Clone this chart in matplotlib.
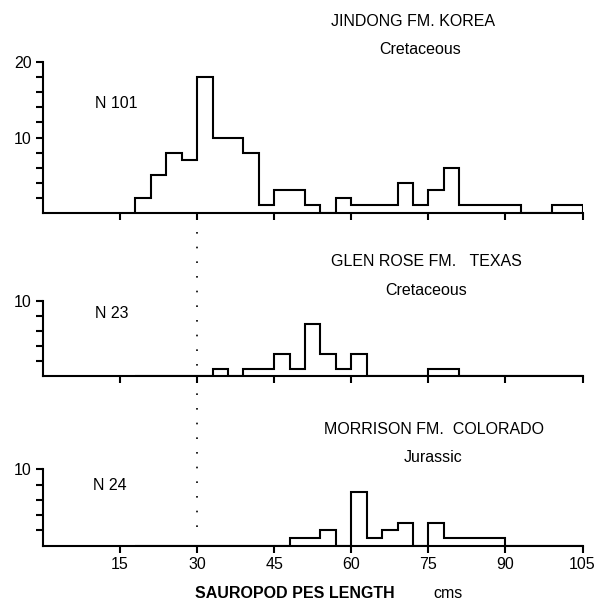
import numpy as np
import matplotlib
matplotlib.use("Agg")
import matplotlib.pyplot as plt
from matplotlib.transforms import blended_transform_factory

# bin edges (cm) shared by all three panels
bin_edges = [18, 21, 24, 27, 30, 33, 36, 39, 42, 45, 48, 51, 54, 57, 60,
             63, 66, 69, 72, 75, 78, 81, 84, 87, 90, 93, 96, 99, 102, 105]

# counts per bin
jindong = [2, 5, 8, 7, 18, 10, 10, 8, 1, 3, 3, 1, 0, 2, 1,
           1, 1, 4, 1, 3, 6, 1, 1, 1, 1, 0, 0, 1, 1]
glen_rose = [0, 0, 0, 0, 0, 1, 0, 1, 1, 3, 1, 7, 3, 1, 3,
             0, 0, 0, 0, 1, 1, 0, 0, 0, 0, 0, 0, 0, 0]
morrison = [0, 0, 0, 0, 0, 0, 0, 0, 0, 0, 1, 1, 2, 0, 7,
            1, 2, 3, 0, 3, 1, 1, 1, 1, 0, 0, 0, 0, 0]

x_ticks = [15, 30, 45, 60, 75, 90, 105]
panels = [
    ("JINDONG FM. KOREA", "Cretaceous", "N 101", jindong, 20),
    ("GLEN ROSE FM.   TEXAS", "Cretaceous", "N 23", glen_rose, 10),
    ("MORRISON FM.  COLORADO", "Jurassic", "N 24", morrison, 10),
]

plt.rcParams['font.family'] = ['Liberation Sans', 'DejaVu Sans']
FS = 11.5
W, H = 597, 600

fig = plt.figure(figsize=(W / 100, H / 100), dpi=100)

def fx(px):
    return px / W

def fy(py):
    return 1 - py / H

# axes boxes in pixels: (top-of-ylim, baseline)
boxes = [(62, 213), (301, 376), (469.3, 545.7)]
left_px, right_px = 43, 582.5
# title / period / N label positions in pixels
title_pos = [(413, 21), (426, 262), (434, 430)]
period_pos = [(420, 50), (426, 290), (433, 458)]
n_pos = [(95, 104), (95, 314), (93, 485)]

axes = []
for i, (title, period, nlab, counts, ymax) in enumerate(panels):
    top, base = boxes[i]
    ax = fig.add_axes([fx(left_px), fy(base), fx(right_px - left_px), (base - top) / H])
    ax.stairs(counts, bin_edges, color='black', linewidth=1.5, baseline=0)
    ax.set_xlim(0, 105)
    ax.set_ylim(0, ymax)
    for s in ['top', 'right']:
        ax.spines[s].set_visible(False)
    for s in ['left', 'bottom']:
        ax.spines[s].set_linewidth(1.5)
    yt = list(range(2, ymax + 1, 2))
    ax.set_yticks(yt)
    ax.set_yticklabels([str(v) if v % 10 == 0 else '' for v in yt], fontsize=FS)
    ax.set_xticks(x_ticks)
    if i < 2:
        ax.set_xticklabels([])
    else:
        ax.set_xticklabels([str(v) for v in x_ticks], fontsize=FS)
    ax.tick_params(axis='both', direction='out', length=5, width=1.5, pad=3)
    ax.patch.set_alpha(0)

    fig.text(fx(title_pos[i][0]), fy(title_pos[i][1]), title, fontsize=FS,
             ha='center', va='center')
    fig.text(fx(period_pos[i][0]), fy(period_pos[i][1]), period, fontsize=FS,
             ha='center', va='center')
    fig.text(fx(n_pos[i][0]), fy(n_pos[i][1]), nlab, fontsize=FS,
             ha='left', va='center')
    axes.append(ax)

# dotted reference line at 30 cm running through the lower panels
trans = blended_transform_factory(axes[2].transData, fig.transFigure)
axes[2].plot([30, 30], [fy(527), fy(232)], transform=trans, color='black',
             linewidth=1.2, linestyle=(0, (1, 7.8)), clip_on=False)

fig.text(fx(195), fy(593), "SAUROPOD PES LENGTH", fontsize=FS,
         fontweight='bold', ha='left', va='center')
fig.text(fx(448), fy(593), "cms", fontsize=FS, ha='center', va='center')

fig.savefig("out.png", dpi=100)
